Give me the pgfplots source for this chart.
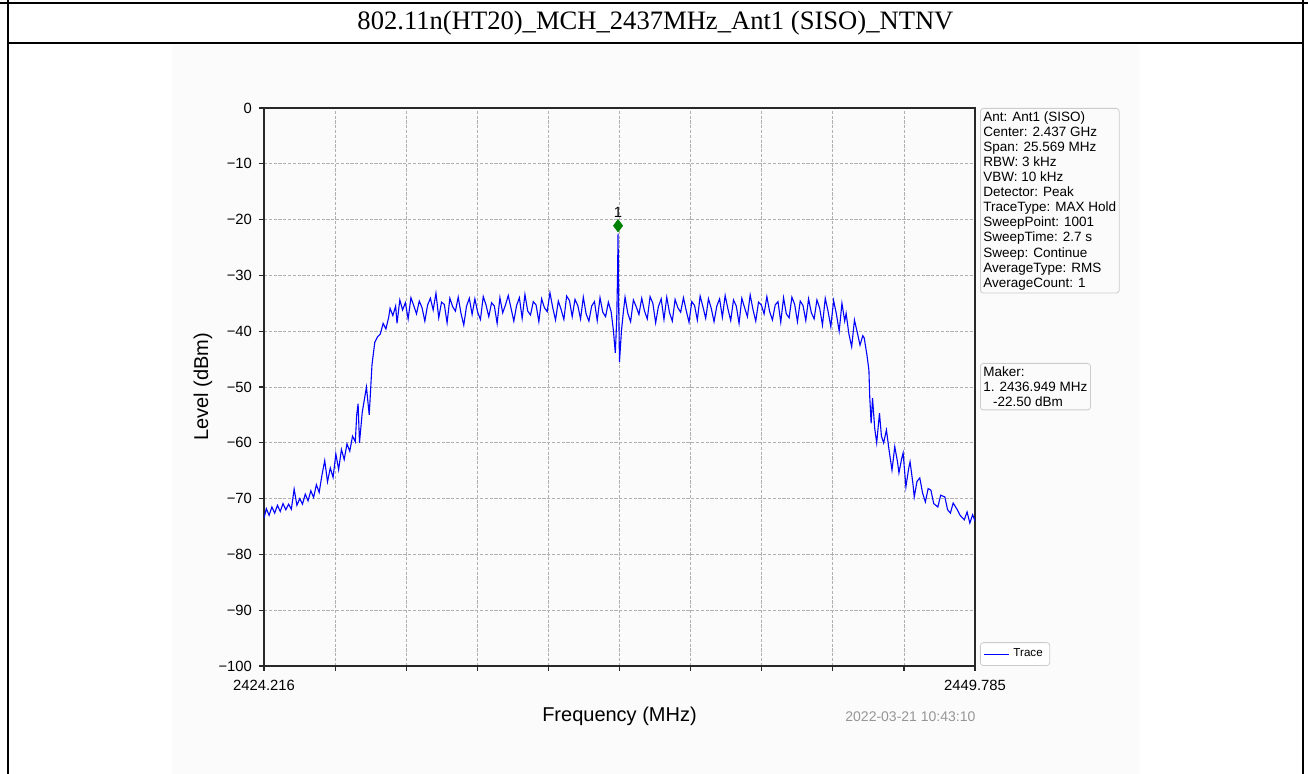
\documentclass[border=0pt]{standalone}
\usepackage{pgfplots}
\pgfplotsset{compat=1.18}
\usepackage{pgfplotstable}
\usepackage{fontspec}
\setmainfont{Liberation Sans}
\newfontfamily\serifttl{Liberation Serif}

\definecolor{trace}{RGB}{0,0,255}
\definecolor{mkgreen}{RGB}{0,128,0}
\definecolor{gridc}{RGB}{176,176,176}
\definecolor{spine}{RGB}{40,40,40}
\definecolor{boxc}{RGB}{204,204,204}
\definecolor{bgc}{RGB}{251,251,251}
\definecolor{datec}{RGB}{150,150,150}

% max hold trace, MHz vs dBm
\pgfplotstableread{
f lvl
2424.216 -73.5
2424.3 -71.8
2424.4 -73.0
2424.5 -71.5
2424.6 -72.6
2424.7 -71.2
2424.8 -72.3
2424.9 -70.9
2425.0 -72.0
2425.1 -71.0
2425.2 -71.9
2425.3 -68.3
2425.4 -71.2
2425.5 -70.0
2425.6 -71.0
2425.7 -69.2
2425.8 -70.4
2425.9 -68.6
2426.0 -69.8
2426.1 -67.5
2426.2 -68.9
2426.3 -65.8
2426.4 -63.2
2426.5 -67.0
2426.6 -64.5
2426.7 -66.2
2426.8 -62.0
2426.9 -64.8
2427.0 -61.2
2427.1 -63.0
2427.2 -60.2
2427.3 -61.5
2427.4 -58.8
2427.5 -59.8
2427.55 -55.0
2427.6 -53.0
2427.65 -60.0
2427.75 -54.5
2427.85 -51.5
2427.9 -50.0
2428.0 -55.0
2428.1 -46.0
2428.2 -42.0
2428.3 -41.0
2428.4 -40.5
2428.5 -38.6
2428.6 -39.6
2428.7 -37.5
2428.75 -35.9
2428.85 -37.2
2428.95 -35.5
2429.0 -38.6
2429.1 -34.4
2429.2 -36.2
2429.3 -34.9
2429.4 -37.8
2429.5 -34.0
2429.6 -35.4
2429.7 -36.9
2429.8 -34.6
2429.9 -35.8
2430.0 -38.2
2430.1 -35.3
2430.2 -34.1
2430.3 -36.2
2430.4 -33.2
2430.5 -37.6
2430.6 -34.8
2430.7 -35.2
2430.8 -38.5
2430.9 -34.1
2431.0 -35.6
2431.1 -36.4
2431.2 -33.9
2431.3 -36.8
2431.4 -38.9
2431.5 -35.5
2431.6 -34.1
2431.7 -37.0
2431.8 -34.2
2431.9 -36.6
2432.0 -37.9
2432.1 -33.8
2432.2 -35.3
2432.3 -37.4
2432.4 -34.9
2432.5 -35.5
2432.6 -38.6
2432.7 -34.0
2432.8 -36.7
2432.9 -35.3
2433.0 -33.6
2433.1 -35.9
2433.2 -38.2
2433.3 -35.4
2433.4 -34.0
2433.5 -37.7
2433.6 -33.4
2433.7 -36.4
2433.8 -37.1
2433.9 -34.7
2434.0 -35.3
2434.1 -38.3
2434.2 -34.2
2434.3 -35.8
2434.4 -36.5
2434.5 -33.1
2434.6 -35.8
2434.7 -38.0
2434.8 -34.6
2434.9 -36.1
2435.0 -37.9
2435.1 -33.7
2435.2 -34.5
2435.3 -37.4
2435.4 -34.3
2435.5 -35.4
2435.6 -37.8
2435.7 -33.9
2435.8 -36.9
2435.9 -38.2
2436.0 -35.5
2436.1 -34.7
2436.2 -38.1
2436.3 -34.0
2436.4 -36.6
2436.5 -37.4
2436.6 -34.8
2436.7 -36.5
2436.78 -39.8
2436.85 -43.9
2436.9 -38.0
2436.93 -30.0
2436.949 -22.5
2436.97 -35.0
2437.0 -45.5
2437.07 -40.0
2437.13 -37.0
2437.2 -33.9
2437.3 -36.8
2437.4 -38.3
2437.5 -34.4
2437.6 -35.6
2437.7 -37.0
2437.8 -34.1
2437.9 -36.4
2438.0 -37.8
2438.1 -33.8
2438.2 -35.0
2438.3 -38.5
2438.4 -35.6
2438.5 -34.2
2438.6 -37.9
2438.7 -33.9
2438.8 -36.7
2438.9 -38.2
2439.0 -34.3
2439.1 -35.8
2439.2 -36.6
2439.3 -34.0
2439.4 -36.3
2439.5 -38.4
2439.6 -34.7
2439.7 -35.4
2439.8 -38.0
2439.9 -33.7
2440.0 -35.6
2440.1 -37.7
2440.2 -34.2
2440.3 -35.9
2440.4 -38.3
2440.5 -35.5
2440.6 -34.2
2440.7 -37.5
2440.8 -33.6
2440.9 -36.0
2441.0 -38.1
2441.1 -34.4
2441.2 -35.5
2441.3 -38.6
2441.4 -34.1
2441.5 -35.8
2441.6 -37.4
2441.7 -33.5
2441.8 -36.1
2441.9 -38.2
2442.0 -34.8
2442.1 -35.3
2442.2 -36.9
2442.3 -33.8
2442.4 -36.5
2442.5 -38.0
2442.6 -35.3
2442.7 -34.7
2442.8 -38.4
2442.9 -34.0
2443.0 -36.9
2443.1 -37.6
2443.2 -33.9
2443.3 -35.2
2443.4 -38.3
2443.5 -34.6
2443.6 -35.4
2443.7 -38.1
2443.8 -34.2
2443.9 -36.7
2444.0 -37.8
2444.1 -34.4
2444.2 -35.9
2444.3 -38.9
2444.4 -34.1
2444.5 -36.4
2444.6 -39.2
2444.7 -34.5
2444.8 -36.9
2444.9 -40.0
2445.0 -35.0
2445.1 -38.2
2445.15 -36.8
2445.25 -40.5
2445.35 -42.8
2445.45 -38.0
2445.55 -40.2
2445.65 -42.5
2445.75 -40.8
2445.8 -41.2
2445.9 -44.3
2445.97 -47.0
2446.0 -51.8
2446.05 -56.5
2446.1 -52.0
2446.18 -57.5
2446.25 -60.0
2446.35 -54.7
2446.42 -58.8
2446.5 -60.0
2446.6 -57.7
2446.7 -61.5
2446.8 -64.9
2446.9 -60.7
2447.0 -63.5
2447.05 -65.4
2447.15 -62.8
2447.2 -61.8
2447.3 -67.9
2447.4 -64.6
2447.45 -63.4
2447.55 -67.2
2447.6 -69.7
2447.7 -66.9
2447.8 -66.3
2447.9 -69.0
2448.0 -70.6
2448.1 -68.2
2448.2 -68.5
2448.3 -70.9
2448.45 -71.5
2448.55 -69.4
2448.7 -69.7
2448.8 -72.0
2448.9 -72.6
2449.0 -70.8
2449.15 -72.0
2449.25 -73.0
2449.4 -73.8
2449.5 -72.4
2449.6 -74.4
2449.7 -72.9
2449.785 -74.0
}\tracedata

\begin{document}
\begin{tikzpicture}
\useasboundingbox (0,0) rectangle (654pt,387pt);
\fill[white] (0,0) rectangle (654pt,387pt);
\fill[bgc] (86pt,0) rectangle (569.5pt,364.5pt);

% table frame round the picture
\draw[line width=0.8pt] (0,385.5pt) -- (654pt,385.5pt);
\draw[line width=0.8pt] (4pt,387pt) -- (4pt,0);
\draw[line width=0.8pt] (651.5pt,387pt) -- (651.5pt,0);
\draw[line width=0.8pt] (4pt,365.5pt) -- (651.5pt,365.5pt);
\node[font=\serifttl\fontsize{13.3}{15}\selectfont] at (327.75pt,375.5pt)
  {802.11n(HT20)\_MCH\_2437MHz\_Ant1 (SISO)\_NTNV};

\begin{axis}[
  at={(132pt,54pt)}, anchor=south west,
  scale only axis, width=355.5pt, height=279pt,
  xmin=2424.216, xmax=2449.785, ymin=-100, ymax=0,
  xtick={2424.216,2426.7729,2429.3298,2431.8867,2434.4436,2437.0005,2439.5574,2442.1143,2444.6712,2447.2281,2449.785},
  xticklabels={2424.216,{},{},{},{},{},{},{},{},{},2449.785},
  ytick={-100,-90,-80,-70,-60,-50,-40,-30,-20,-10,0},
  yticklabels={−100,−90,−80,−70,−60,−50,−40,−30,−20,−10,0},
  xtick pos=left, ytick pos=left,
  tick align=outside, major tick length=2.5pt,
  grid=major,
  major grid style={gridc, dash pattern=on 1.6pt off 0.8pt, line width=0.4pt},
  axis line style={spine, line width=0.6pt},
  tick style={spine, line width=0.6pt},
  tick label style={font=\fontsize{7.4}{8}\selectfont},
  xticklabel style={yshift=-1pt},
  xlabel={Frequency (MHz)}, ylabel={Level (dBm)},
  label style={font=\fontsize{10}{12}\selectfont},
  xlabel style={at={(axis description cs:0.5,-0.0896)}, anchor=center},
  ylabel style={at={(axis description cs:-0.0858,0.5)}, anchor=center},
  legend style={at={(1.007,0)}, anchor=south west, draw=boxc, rounded corners=1.5pt,
    font=\fontsize{5.8}{7}\selectfont, inner xsep=1.5pt, inner ysep=1pt},
  legend cell align=left,
  legend image code/.code={\draw[#1] (0pt,0pt) -- (12.5pt,0pt);},
]
\addplot[trace, line width=0.55pt] table[x=f, y=lvl] {\tracedata};
\addlegendentry{Trace}
\addplot[only marks, mark=diamond*, mark size=3pt, mkgreen, forget plot]
  coordinates {(2436.949,-21.1)};
\node[font=\fontsize{7.4}{8}\selectfont, yshift=6.9pt] at (axis cs:2436.949,-21.1) {1};
\end{axis}

% setting boxes to the right of the axis
\node[draw=boxc, rounded corners=1.5pt, anchor=north west, inner xsep=1.5pt, inner ysep=1.5pt,
  align=left, font=\fontsize{6.75}{7.55}\selectfont] at (490pt,333pt)
  {Ant: Ant1 (SISO)\\Center: 2.437 GHz\\Span: 25.569 MHz\\RBW: 3 kHz\\VBW: 10 kHz\\Detector: Peak\\TraceType: MAX Hold\\SweepPoint: 1001\\SweepTime: 2.7 s\\Sweep: Continue\\AverageType: RMS\\AverageCount: 1};
\node[draw=boxc, rounded corners=1.5pt, anchor=north west, inner xsep=1.5pt, inner ysep=1.6pt,
  align=left, font=\fontsize{6.75}{7.55}\selectfont] at (490pt,205.5pt)
  {Maker:\\1. 2436.949 MHz\\\hspace*{4.8pt}-22.50 dBm};
\node[anchor=west, datec, inner sep=0, font=\fontsize{7}{8}\selectfont] at (422.5pt,28.5pt)
  {2022-03-21 10:43:10};
\end{tikzpicture}
\end{document}
